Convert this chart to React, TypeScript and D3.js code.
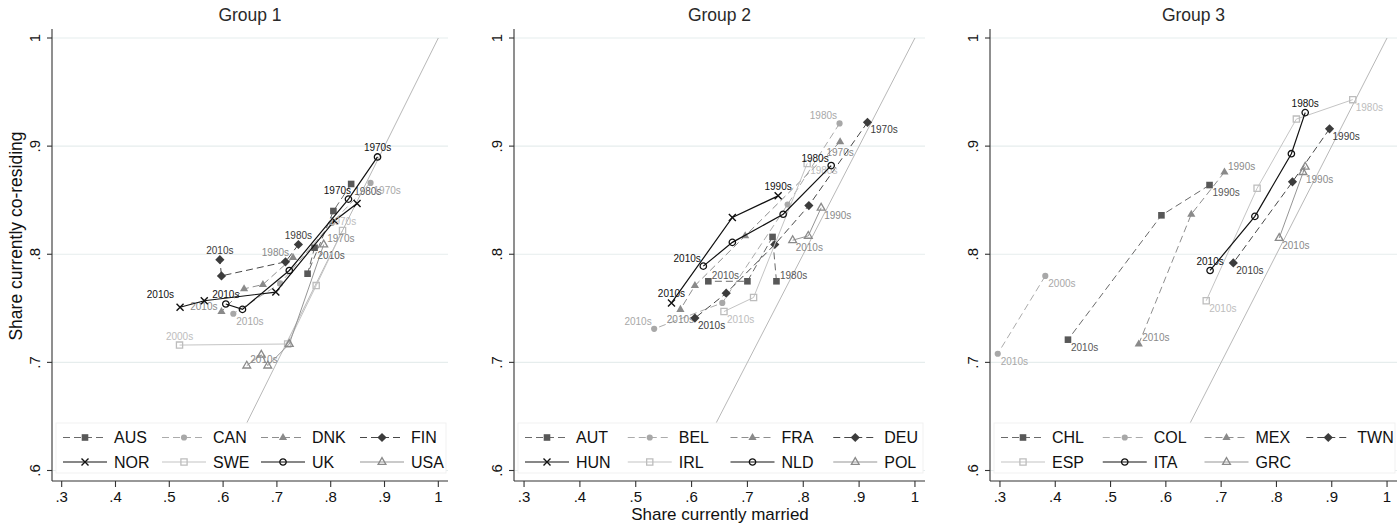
import React from 'react';
import * as d3 from 'd3';

type Pt = [number, number];

// [share married, share co-residing] by decade, oldest first
// Group 1
const AUS: Pt[] = [[0.838, 0.865], [0.805, 0.840], [0.757, 0.782], [0.770, 0.806]];
const CAN: Pt[] = [[0.874, 0.866], [0.802, 0.829], [0.706, 0.773], [0.619, 0.745]];
const DNK: Pt[] = [[0.730, 0.797], [0.674, 0.772], [0.639, 0.768], [0.597, 0.747]];
const FIN: Pt[] = [[0.740, 0.809], [0.716, 0.793], [0.597, 0.780], [0.594, 0.795]];
const NOR: Pt[] = [[0.849, 0.847], [0.807, 0.831], [0.698, 0.765], [0.565, 0.757], [0.520, 0.751]];
const SWE: Pt[] = [[0.822, 0.822], [0.773, 0.771], [0.720, 0.717], [0.519, 0.716]];
const UK: Pt[] = [[0.887, 0.890], [0.833, 0.851], [0.723, 0.785], [0.636, 0.749], [0.605, 0.754]];
const USA: Pt[] = [[0.787, 0.809], [0.723, 0.717], [0.683, 0.697], [0.671, 0.707], [0.644, 0.697]];

// Group 2
const AUT: Pt[] = [[0.752, 0.775], [0.745, 0.816], [0.700, 0.775], [0.630, 0.775]];
const BEL: Pt[] = [[0.865, 0.921], [0.772, 0.846], [0.655, 0.755], [0.533, 0.731]];
const FRA: Pt[] = [[0.866, 0.904], [0.696, 0.817], [0.606, 0.771], [0.580, 0.749]];
const DEU: Pt[] = [[0.915, 0.922], [0.810, 0.845], [0.749, 0.809], [0.662, 0.764], [0.606, 0.741]];
const HUN: Pt[] = [[0.755, 0.854], [0.673, 0.834], [0.564, 0.755]];
const IRL: Pt[] = [[0.807, 0.884], [0.711, 0.760], [0.658, 0.747]];
const NLD: Pt[] = [[0.850, 0.882], [0.764, 0.837], [0.673, 0.811], [0.621, 0.789]];
const POL: Pt[] = [[0.832, 0.843], [0.809, 0.817], [0.781, 0.813]];

// Group 3
const CHL: Pt[] = [[0.679, 0.864], [0.592, 0.836], [0.423, 0.721]];
const COL: Pt[] = [[0.382, 0.780], [0.296, 0.708]];
const MEX: Pt[] = [[0.706, 0.876], [0.646, 0.837], [0.551, 0.717]];
const TWN: Pt[] = [[0.896, 0.916], [0.829, 0.867], [0.722, 0.792]];
const ESP: Pt[] = [[0.938, 0.943], [0.836, 0.925], [0.765, 0.861], [0.673, 0.757]];
const ITA: Pt[] = [[0.852, 0.931], [0.827, 0.893], [0.761, 0.835], [0.680, 0.785]];
const GRC: Pt[] = [[0.848, 0.876], [0.852, 0.881], [0.805, 0.815]];

// decade labels on first and last point
const firstDecade = {
  AUS: '1980s', CAN: '1970s', DNK: '1980s', FIN: '1980s', NOR: '1970s', SWE: '1970s', UK: '1970s', USA: '1970s',
  AUT: '1980s', BEL: '1980s', FRA: '1970s', DEU: '1970s', HUN: '1990s', IRL: '1980s', NLD: '1980s', POL: '1990s',
  CHL: '1990s', COL: '2000s', MEX: '1990s', TWN: '1990s', ESP: '1980s', ITA: '1980s', GRC: '1990s',
};
const lastDecade = {
  AUS: '2010s', CAN: '2010s', DNK: '2010s', FIN: '2010s', NOR: '2010s', SWE: '2000s', UK: '2010s', USA: '2010s',
  AUT: '2010s', BEL: '2010s', FRA: '2010s', DEU: '2010s', HUN: '2010s', IRL: '2010s', NLD: '2010s', POL: '2010s',
  CHL: '2010s', COL: '2010s', MEX: '2010s', TWN: '2010s', ESP: '2010s', ITA: '2010s', GRC: '2010s',
};

const group1 = ['AUS', 'CAN', 'DNK', 'FIN', 'NOR', 'SWE', 'UK', 'USA'];
const group2 = ['AUT', 'BEL', 'FRA', 'DEU', 'HUN', 'IRL', 'NLD', 'POL'];
const group3 = ['CHL', 'COL', 'MEX', 'TWN', 'ESP', 'ITA', 'GRC'];
const groupTitles = ['Group 1', 'Group 2', 'Group 3'];

const xTicks = [0.3, 0.4, 0.5, 0.6, 0.7, 0.8, 0.9, 1];
const yTicks = [0.6, 0.7, 0.8, 0.9, 1];

const seriesData: Record<string, Pt[]> = {
  AUS, CAN, DNK, FIN, NOR, SWE, UK, USA,
  AUT, BEL, FRA, DEU, HUN, IRL, NLD, POL,
  CHL, COL, MEX, TWN, ESP, ITA, GRC,
};

// style slot for each country (Stata-like p1..p8)
const slotOf: Record<string, number> = {
  AUS: 0, CAN: 1, DNK: 2, FIN: 3, NOR: 4, SWE: 5, UK: 6, USA: 7,
  AUT: 0, BEL: 1, FRA: 2, DEU: 3, HUN: 4, IRL: 5, NLD: 6, POL: 7,
  CHL: 0, COL: 1, MEX: 2, TWN: 3, ESP: 5, ITA: 6, GRC: 7,
};

// where the decade labels sit (clock position)
const labelPos: Record<string, string> = {
  AUS: '4', CAN: '4', DNK: '9', FIN: '12', NOR: '11', SWE: '12', UK: '12', USA: '2',
  AUT: '2', BEL: '10', FRA: '6', DEU: '4', HUN: '12', IRL: '4', NLD: '10', POL: '4',
  CHL: '4', COL: '4', MEX: '2', TWN: '4', ESP: '4', ITA: '12', GRC: '4',
};

const slots = [
  { shape: 'square', color: '#585858', line: '#6a6a6a', dash: '7,4', fill: true },
  { shape: 'circle', color: '#a8a8a8', line: '#ababab', dash: '7,4', fill: true },
  { shape: 'triangle', color: '#8a8a8a', line: '#8e8e8e', dash: '7,4', fill: true },
  { shape: 'diamond', color: '#3c3c3c', line: '#484848', dash: '7,4', fill: true },
  { shape: 'x', color: '#111', line: '#111', dash: null, fill: false },
  { shape: 'square', color: '#bdbdbd', line: '#c4c4c4', dash: null, fill: false },
  { shape: 'circle', color: '#111', line: '#111', dash: null, fill: false },
  { shape: 'triangle', color: '#8a8a8a', line: '#959595', dash: null, fill: false },
];

const labelOffsets: Record<string, { dx: number; dy: number; anchor: string }> = {
  '12': { dx: 0, dy: -5.5, anchor: 'middle' },
  '6': { dx: 0, dy: 14, anchor: 'middle' },
  '4': { dx: 3, dy: 11, anchor: 'start' },
  '2': { dx: 3.5, dy: -2.5, anchor: 'start' },
  '10': { dx: -2.5, dy: -4, anchor: 'end' },
  '11': { dx: -6, dy: -9, anchor: 'end' },
  '9': { dx: -4, dy: -1.5, anchor: 'end' },
};

const FONT = '"Liberation Sans", Arial, Helvetica, sans-serif';

const markerPath = (shape: string, filled: boolean) => {
  switch (shape) {
    case 'square':
      return filled ? 'M-3.3,-3.3h6.6v6.6h-6.6Z' : 'M-3.1,-3.1h6.2v6.2h-6.2Z';
    case 'circle':
      return filled ? d3.symbol(d3.symbolCircle, 30)() : d3.symbol(d3.symbolCircle, 32)();
    case 'triangle':
      return filled ? 'M0,-4.6L4.1,2.5L-4.1,2.5Z' : 'M0,-4.4L3.9,2.4L-3.9,2.4Z';
    case 'diamond':
      return 'M0,-4.6L4.6,0L0,4.6L-4.6,0Z';
    default:
      return 'M-3.5,-3.5L3.5,3.5M-3.5,3.5L3.5,-3.5';
  }
};

const Marker = ({ x, y, slot }: { x: number; y: number; slot: number }) => {
  const s = slots[slot];
  const d = markerPath(s.shape, s.fill) as string;
  if (s.fill) return <path d={d} transform={`translate(${x},${y})`} fill={s.color} />;
  return (
    <path d={d} transform={`translate(${x},${y})`} fill="none" stroke={s.color}
      strokeWidth={s.shape === 'x' ? 1.4 : 1.3} />
  );
};

const TOP = 38;
const BOTTOM = 470.5;
const AXIS_Y = 481;

const Panel = ({ title, names, left, right }: { title: string; names: string[]; left: number; right: number }) => {
  const x = d3.scaleLinear().domain([0.282, 1.018]).range([left, right]);
  const y = d3.scaleLinear().domain([0.6, 1]).range([BOTTOM, TOP]);
  const line = d3.line<Pt>().x((d) => x(d[0])).y((d) => y(d[1]));
  const diag = line([[0.6, 0.6], [1, 1]]) as string;

  const colW = (right - left) / 4;

  return (
    <g>
      <text x={(left + right) / 2} y={21} textAnchor="middle" fontSize={17.5} fill="#2a2a2a">{title}</text>

      {yTicks.map((t) => (
        <line key={'g' + t} x1={left} x2={right} y1={y(t)} y2={y(t)} stroke="#e6eded" strokeWidth={1.2} />
      ))}

      <path d={diag} stroke="#b8b8b8" strokeWidth={1} fill="none" />

      {names.map((n) => {
        const pts = seriesData[n];
        const s = slots[slotOf[n]];
        const lp = labelOffsets[labelPos[n]];
        const ends: [Pt, string][] = [[pts[0], firstDecade[n]], [pts[pts.length - 1], lastDecade[n]]];
        return (
          <g key={n}>
            <path d={line(pts) as string} fill="none" stroke={s.line} strokeWidth={s.color === '#111' ? 1.2 : 1}
              strokeDasharray={s.dash || undefined} />
            {pts.map((p, i) => (
              <Marker key={i} x={x(p[0])} y={y(p[1])} slot={slotOf[n]} />
            ))}
            {ends.map(([p, lab], i) => (
              <text key={'l' + i} x={x(p[0]) + lp.dx} y={y(p[1]) + lp.dy} textAnchor={lp.anchor}
                fontSize={10} fill={s.color}>{lab}</text>
            ))}
          </g>
        );
      })}

      {/* legend */}
      <rect x={left + 4} y={423} width={right - left - 6} height={50} fill="#fff" stroke="#f1f1f1" />
      {names.map((n, i) => {
        const s = slots[slotOf[n]];
        const kx = left + 11 + (i % 4) * colW;
        const ky = i < 4 ? 437.5 : 462;
        return (
          <g key={'k' + n}>
            <line x1={kx} x2={kx + 44} y1={ky} y2={ky} stroke={s.line} strokeWidth={s.color === '#111' ? 1.2 : 1.1}
              strokeDasharray={s.dash || undefined} />
            <Marker x={kx + 22} y={ky} slot={slotOf[n]} />
            <text x={kx + 51} y={ky + 5.8} fontSize={16} fill="#111">{n}</text>
          </g>
        );
      })}

      {/* axes */}
      <line x1={left} x2={left} y1={29} y2={AXIS_Y} stroke="#333" strokeWidth={1.1} />
      <line x1={left} x2={right} y1={AXIS_Y} y2={AXIS_Y} stroke="#333" strokeWidth={1.1} />
      {yTicks.map((t) => (
        <g key={'y' + t}>
          <line x1={left - 5} x2={left} y1={y(t)} y2={y(t)} stroke="#333" strokeWidth={1.1} />
          <text transform={`translate(${left - 12},${y(t)}) rotate(-90)`} textAnchor="middle" fontSize={15} fill="#111">
            {t === 1 ? '1' : d3.format('.1f')(t).replace(/^0/, '')}
          </text>
        </g>
      ))}
      {xTicks.map((t) => (
        <g key={'x' + t}>
          <line x1={x(t)} x2={x(t)} y1={AXIS_Y} y2={AXIS_Y + 6} stroke="#333" strokeWidth={1.1} />
          <text x={x(t)} y={502} textAnchor="middle" fontSize={15} fill="#111">
            {t === 1 ? '1' : d3.format('.1f')(t).replace(/^0/, '')}
          </text>
        </g>
      ))}
    </g>
  );
};

const panelBounds = [
  [52, 448],
  [514, 925],
  [990, 1397],
];

export default function App() {
  const groups = [group1, group2, group3];
  return (
    <svg width={1398} height={526} style={{ position: 'absolute', left: 0, top: 0, background: '#fff' }}
      fontFamily={FONT}>
      <rect width={1398} height={526} fill="#fff" />
      {groups.map((g, i) => (
        <Panel key={i} title={groupTitles[i]} names={g} left={panelBounds[i][0]} right={panelBounds[i][1]} />
      ))}
      <text x={720} y={520} textAnchor="middle" fontSize={17} fill="#111">Share currently married</text>
      <text transform="translate(22,236) rotate(-90)" textAnchor="middle" fontSize={17.5} fill="#111">
        Share currently co-residing
      </text>
    </svg>
  );
}
